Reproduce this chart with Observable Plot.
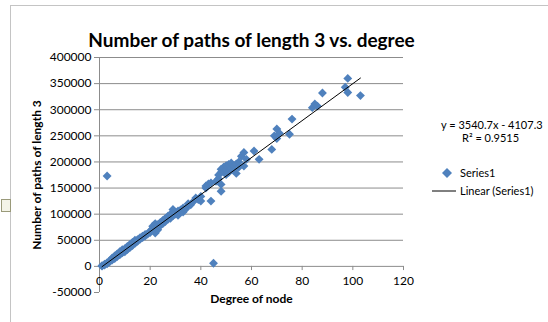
<!DOCTYPE html>
<html>
<head>
<meta charset="utf-8">
<script src="https://cdn.jsdelivr.net/npm/d3@7"></script>
<script src="https://cdn.jsdelivr.net/npm/@observablehq/plot@0.6"></script>
<style>
  html, body { margin: 0; padding: 0; background: #fff; }
  #wrap { position: relative; width: 548px; height: 322px; overflow: hidden; font-family: Lato, "Open Sans", sans-serif; }
  #wrap svg.plot { position: absolute; left: 0; top: 0; }
  .border-top { position: absolute; left: 10px; top: 5px; width: 538px; height: 0; border-top: 1px solid #c4c4c4; }
  .border-left { position: absolute; left: 10px; top: 5px; width: 0; height: 317px; border-left: 1px solid #c4c4c4; }
  .handle { position: absolute; left: 1px; top: 199px; width: 8px; height: 11px; border: 1px solid #9a9a7a; background: #f4f4e8; }
  .leg { position: absolute; font-size: 11px; color: #000; white-space: nowrap; line-height: 12px; }
</style>
</head>
<body>
<div id="wrap">
  <div class="border-top"></div>
  <div class="border-left"></div>
  <div class="handle"></div>
</div>
<script>
// Degree of node (x) and number of paths of length 3 (y)
const degree = [1,1,2,2,3,3,4,4,5,5,5,6,6,6,7,7,7,8,8,8,9,9,9,10,10,10,11,11,11,12,12,12,13,13,13,14,14,14,15,15,16,16,17,17,18,18,19,20,20,21,21,22,22,22,23,23,24,24,25,25,26,26,27,27,28,28,29,29,30,30,31,31,32,33,33,34,35,35,36,37,38,39,40,40,42,42,43,44,44,45,46,47,47,48,48,48,48,49,49,50,50,50,51,51,52,52,53,53,54,54,55,55,56,57,57,58,61,63,68,69,70,70,71,75,76,84,85,86,88,97,98,98,103,3];
const paths = [500,1500,2500,4000,5000,7000,9000,11000,12000,14000,16000,15000,18000,20000,19000,22000,24000,22000,25000,28000,26000,29000,32000,28000,31000,34000,32000,35000,38000,36000,39000,42000,40000,43000,46000,44000,47000,50000,48000,51000,52000,55000,55000,58000,58000,61000,62000,65000,68000,72000,77000,64000,76000,82000,70000,80000,78000,84000,82000,88000,86000,92000,90000,96000,92000,100000,97000,109000,100000,104000,98000,106000,108000,104000,112000,110000,116000,120000,118000,124000,131000,128000,125000,134000,150000,154000,158000,125000,160000,6000,163000,168000,175000,144000,157000,180000,186000,182000,190000,176000,185000,193000,180000,195000,188000,198000,185000,192000,178000,196000,190000,200000,211000,192000,218000,205000,221000,205000,224000,250000,263000,245000,255000,253000,282000,304000,311000,307000,332000,343000,360000,333000,327000,173000];

const xTicks = [0, 20, 40, 60, 80, 100, 120];
const yTicks = [-50000, 0, 50000, 100000, 150000, 200000, 250000, 300000, 350000, 400000];
const gridValues = [50000, 100000, 150000, 200000, 250000, 300000, 350000, 400000];

const title = "Number of paths of length 3 vs. degree";
const xTitle = "Degree of node";
const yTitle = "Number of paths of length 3";
const seriesName = "Series1";
const trendName = "Linear (Series1)";
const slope = 3540.7;
const intercept = -4107.3;
const r2 = 0.9515;
const trendRange = [1, 103];

const points = degree.map((x, i) => ({x, y: paths[i]}));
const trend = trendRange.map(x => ({x, y: slope * x + intercept}));

const blue = "#4F81BD";
const font = "Lato, 'Open Sans', sans-serif";

const chart = Plot.plot({
  width: 548,
  height: 322,
  marginLeft: 99,
  marginRight: 145,
  marginTop: 57,
  marginBottom: 30,
  style: {fontFamily: font, fontSize: "12px", color: "#000", background: "transparent"},
  x: {domain: [0, 120], axis: null},
  y: {domain: [-50000, 400000], axis: null},
  marks: [
    Plot.ruleY(gridValues, {x1: 0, x2: 120, stroke: "#8c8c8c", strokeWidth: 1}),
    Plot.axisY({ticks: yTicks, tickSize: 5, tickPadding: 3, tickFormat: d => String(d), label: null, stroke: "#8c8c8c", fontSize: 12, fill: "#000", strokeOpacity: 1}),
    Plot.ruleX([0], {y1: -50000, y2: 400000, stroke: "#8c8c8c"}),
    Plot.ruleY([0], {x1: 0, x2: 120, stroke: "#8c8c8c"}),
    Plot.ruleX(xTicks, {x: d => d, y1: 0, y2: -8000, stroke: "#8c8c8c"}),
    Plot.text(xTicks, {x: d => d, y: 0, dy: 15, text: d => String(d), fontSize: 12, fill: "#000"}),
    Plot.dot(points, {x: "x", y: "y", symbol: "diamond2", r: 4, fill: blue, stroke: "none"}),
    Plot.line(trend, {x: "x", y: "y", stroke: "#000", strokeWidth: 1}),
    Plot.text([title], {frameAnchor: "top", dy: -24, text: d => d, fontSize: 19, fontWeight: "bold", fill: "#000"}),
    Plot.text([xTitle], {frameAnchor: "bottom", dy: 10, text: d => d, fontSize: 12, fontWeight: "bold", fill: "#000"}),
    Plot.text([yTitle], {frameAnchor: "left", dx: -62, rotate: -90, textAnchor: "middle", text: d => d, fontSize: 12, fontWeight: "bold", fill: "#000"})
  ]
});
chart.classList.add("plot");
const wrap = document.getElementById("wrap");
wrap.appendChild(chart);

function addLeg(html, left, top) {
  const d = document.createElement("div");
  d.className = "leg";
  d.style.left = left + "px";
  d.style.top = top + "px";
  d.innerHTML = html;
  wrap.appendChild(d);
  return d;
}
addLeg("y = " + slope + "x - " + Math.abs(intercept), 441, 119);
addLeg("R\u00b2 = " + r2, 462, 132);
addLeg('<svg width="10" height="10" style="display:block"><path d="M5,0L10,5L5,10L0,5Z" fill="' + blue + '"/></svg>', 442, 168);
addLeg(seriesName, 460, 167);
addLeg('<svg width="24" height="4" style="display:block"><line x1="0" y1="2" x2="24" y2="2" stroke="#000" stroke-width="1"/></svg>', 432, 189);
addLeg(trendName, 460, 185);
</script>
</body>
</html>
